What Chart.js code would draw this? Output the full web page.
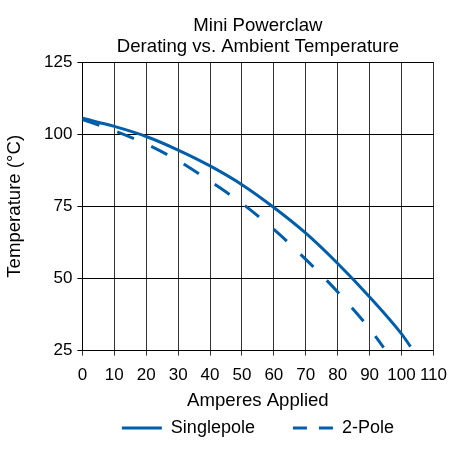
<!DOCTYPE html>
<html>
<head>
<meta charset="utf-8">
<script src="https://cdn.jsdelivr.net/npm/chart.js@4"></script>
<style>
  html, body { margin: 0; padding: 0; background: #fff; }
  #derating { display: block; }
</style>
</head>
<body>
<canvas id="derating" width="457" height="459"></canvas>
<script>
/* global Chart */

// values
let singleAmps = [0, 10, 20, 30, 40, 50, 60, 70, 80, 90, 100, 102.8];
let singleTemps = [105.5, 102.7, 99.2, 94.5, 89.0, 82.5, 74.6, 65.7, 55.2, 43.6, 30.8, 26.4];

let twoPoleAmps = [0, 10, 20, 30, 40, 50, 60, 70, 80, 90, 94.4];
let twoPoleTemps = [105.1, 101.2, 96.6, 90.8, 83.7, 76.0, 67.0, 56.6, 45.3, 32.6, 26.0];

let seriesNames = ["Singlepole", "2-Pole"];
let titleLines = ["Mini Powerclaw", "Derating vs. Ambient Temperature"];

function toPoints(xs, ys) {
  return xs.map((x, i) => ({ x: x, y: ys[i] }));
}

const blue = "#005eaa";
const family = "'Liberation Sans', Arial, sans-serif";
const bigFont = { family: family, size: 18.6, weight: "normal", lineHeight: 1.13 };
const tickFont = { family: family, size: 17, weight: "normal" };

Chart.defaults.color = "#000";
Chart.defaults.font.family = family;

var ctx = document.getElementById("derating").getContext("2d");
var deratingChart = new Chart(ctx, {
  type: "line",
  data: {
    datasets: [
      {
        label: seriesNames[0],
        data: toPoints(singleAmps, singleTemps),
        borderColor: blue,
        backgroundColor: blue,
        borderWidth: 3,
        pointRadius: 0,
        cubicInterpolationMode: "monotone",
        fill: false,
      },
      {
        label: seriesNames[1],
        data: toPoints(twoPoleAmps, twoPoleTemps),
        borderColor: blue,
        backgroundColor: blue,
        borderWidth: 3,
        borderDash: [18, 19],
        pointRadius: 0,
        cubicInterpolationMode: "monotone",
        fill: false,
      },
    ],
  },
  options: {
    responsive: false,
    animation: false,
    devicePixelRatio: 1,
    layout: { padding: { left: 0, right: 22, top: 0, bottom: 12 } },
    plugins: {
      title: {
        display: true,
        fullSize: false,
        text: titleLines,
        font: bigFont,
        color: "#000",
        padding: { top: 15, bottom: 5 },
      },
      legend: {
        position: "bottom",
        fullSize: false,
        labels: {
          usePointStyle: true,
          pointStyle: "line",
          pointStyleWidth: 40,
          padding: 38,
          color: "#000",
          font: { family: family, size: 18 },
          // point style drops the dash, so put it back from the dataset
          generateLabels: function (chart) {
            let items = Chart.defaults.plugins.legend.labels.generateLabels(chart);
            items.forEach((item) => {
              let ds = chart.data.datasets[item.datasetIndex];
              item.lineWidth = 3;
              item.strokeStyle = blue;
              item.lineDash = ds.borderDash ? [14, 12] : [];
            });
            return items;
          },
        },
      },
      tooltip: { enabled: false },
    },
    scales: {
      x: {
        type: "linear",
        min: 0,
        max: 110,
        ticks: { stepSize: 10, padding: 10, color: "#000", maxRotation: 0, font: tickFont },
        grid: { color: "#333", tickLength: 5, lineWidth: 1 },
        border: { color: "#000" },
        title: {
          display: true,
          text: "Amperes Applied",
          color: "#000",
          font: bigFont,
          padding: { top: -6, bottom: -30 },
        },
      },
      y: {
        min: 25,
        max: 125,
        ticks: { stepSize: 25, padding: 5, color: "#000", font: tickFont },
        grid: { color: "#000", tickLength: 5, lineWidth: 1 },
        border: { color: "#000" },
        title: {
          display: true,
          text: "Temperature (°C)",
          color: "#000",
          font: bigFont,
          padding: { top: 4, bottom: 14 },
        },
      },
    },
  },
});
</script>
</body>
</html>
